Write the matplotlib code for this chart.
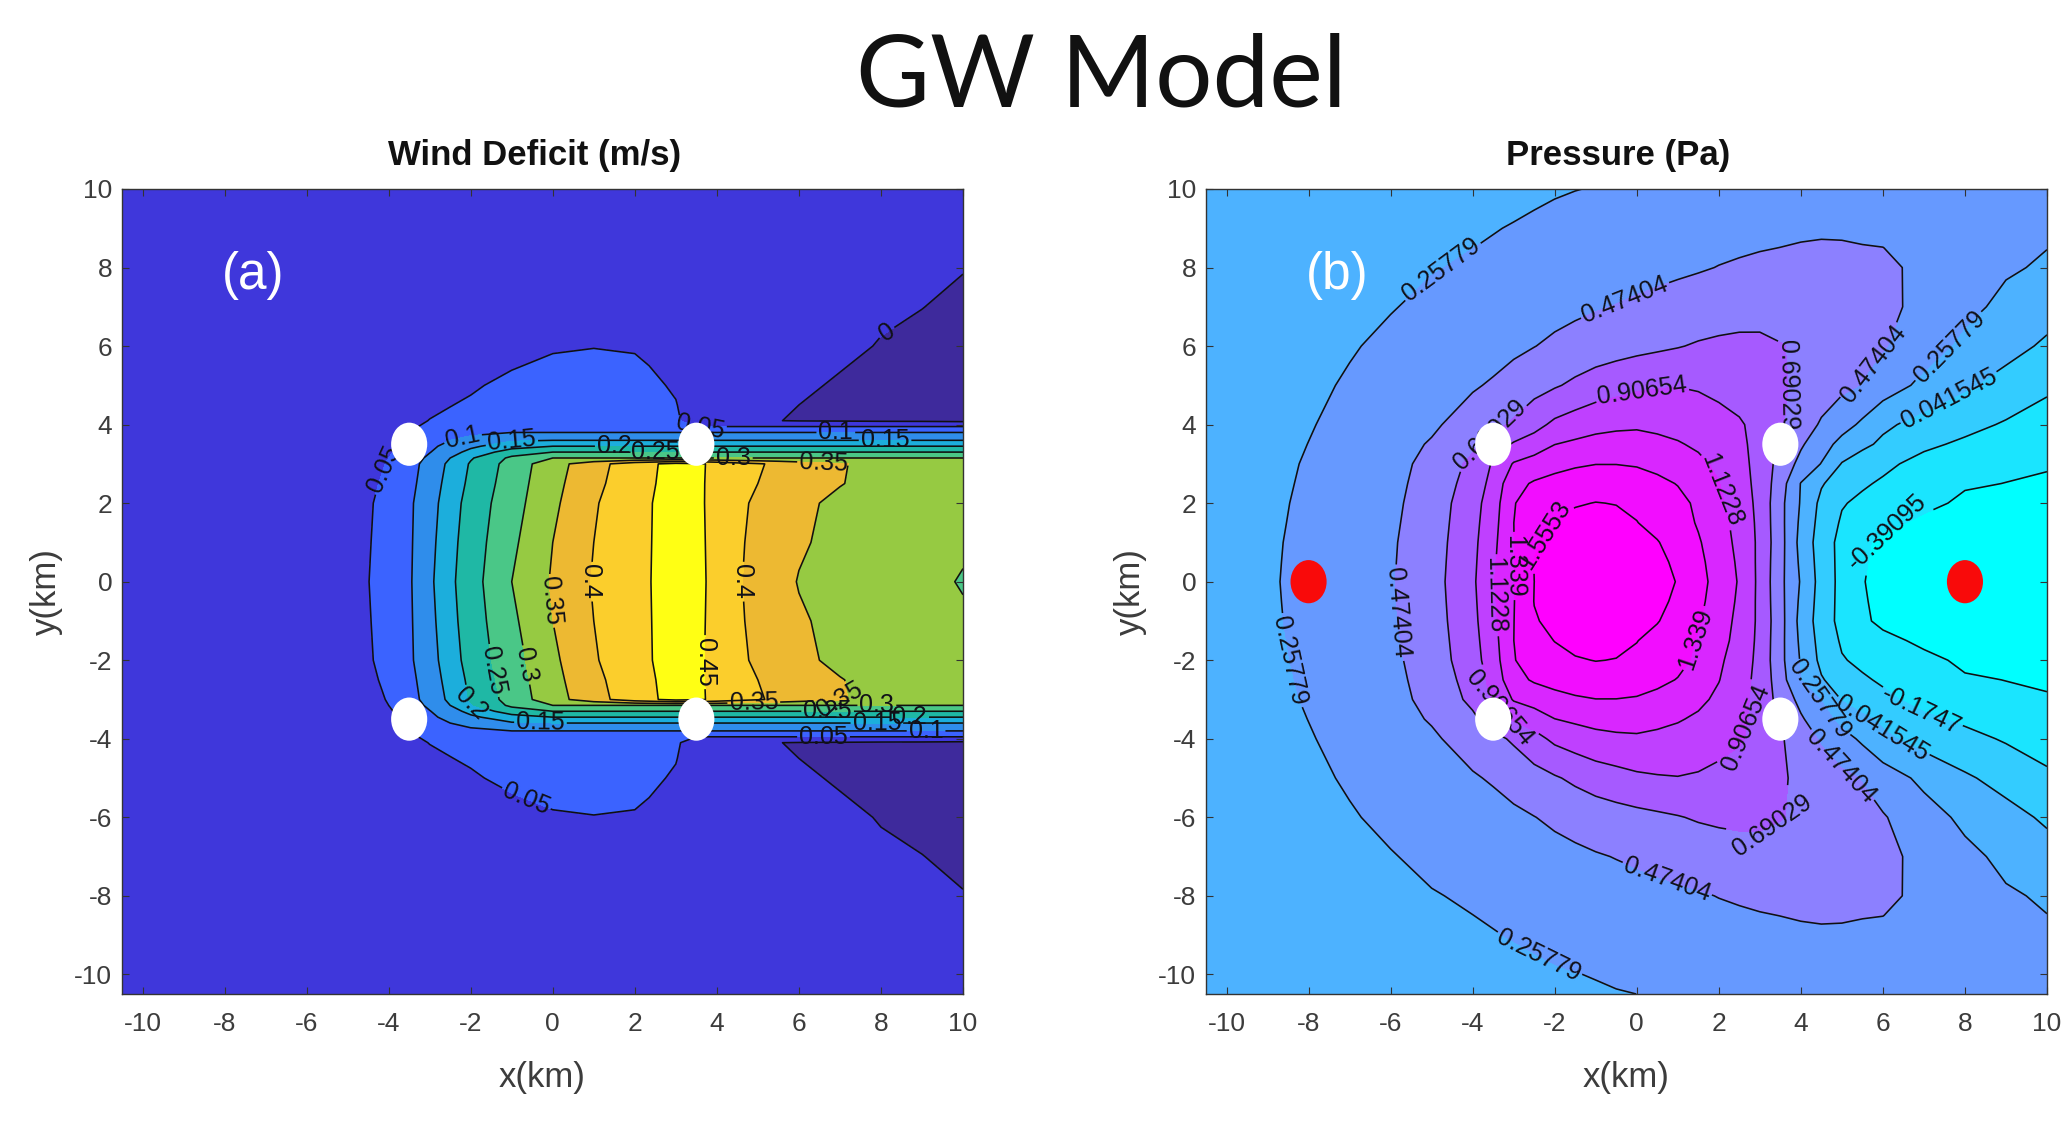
import numpy as np
import matplotlib
matplotlib.use("Agg")
import matplotlib.pyplot as plt
from matplotlib.patches import Ellipse

plt.rcParams['font.family'] = ['Liberation Sans', 'DejaVu Sans']
plt.rcParams['axes.unicode_minus'] = False
plt.rcParams['contour.negative_linestyle'] = 'solid'

# ---------- panel (a): wind deficit, upper half (field is mirrored about y=0) ----------
wind_x = [-10.5,-6,-5,-4.5,-4,-3.5,-3,-2.5,-2,-1,0,1,2,3,3.5,4,5,5.5,6,7,8,9,10]
wind_y = [0,1,2,2.5,3,3.15,3.3,3.45,3.6,3.8,3.95,4.1,4.5,5,5.5,6,7,8,10,10.5]
wind_rows = [
 [.01,.02,.035,.049,.071,.094,.14,.19,.229,.30,.355,.404,.437,.47,.468,.43,.382,.364,.348,.335,.33,.32,.295],
 [.009,.019,.034,.047,.068,.093,.135,.185,.225,.29,.35,.40,.436,.47,.464,.432,.385,.368,.355,.338,.33,.322,.31],
 [.008,.018,.032,.045,.065,.092,.13,.177,.22,.28,.34,.395,.435,.47,.46,.435,.39,.373,.36,.34,.33,.325,.32],
 [.006,.014,.028,.042,.058,.086,.125,.168,.212,.275,.335,.387,.432,.467,.459,.437,.40,.382,.368,.352,.335,.323,.318],
 [.005,.01,.025,.04,.052,.08,.12,.16,.205,.27,.33,.38,.43,.465,.458,.44,.405,.39,.375,.355,.33,.32,.315],
 [.004,.01,.023,.037,.05,.075,.11,.15,.195,.26,.30,.30,.30,.30,.30,.30,.30,.30,.30,.30,.30,.30,.30],
 [.003,.008,.02,.032,.045,.068,.098,.13,.165,.225,.25,.25,.25,.25,.25,.25,.25,.25,.25,.25,.25,.25,.25],
 [.003,.008,.018,.03,.042,.062,.09,.115,.14,.18,.20,.20,.20,.20,.20,.20,.20,.20,.20,.20,.20,.20,.20],
 [.002,.007,.016,.028,.04,.056,.08,.10,.115,.145,.15,.15,.15,.15,.15,.15,.15,.15,.15,.15,.15,.15,.15],
 [.002,.006,.014,.025,.036,.048,.065,.075,.09,.10,.10,.10,.10,.10,.10,.10,.10,.10,.10,.10,.10,.10,.10],
 [.002,.006,.013,.023,.034,.046,.055,.06,.065,.07,.07,.07,.07,.06,.05,.05,.05,.05,.05,.05,.05,.05,.05],
 [.002,.005,.012,.021,.03,.04,.051,.057,.062,.068,.07,.07,.07,.056,.03,.015,.008,.0005,-.002,-.0037,-.006,-.007,-.01],
 [.002,.005,.011,.018,.025,.032,.042,.049,.055,.065,.07,.07,.07,.052,.025,.015,.005,.002,0,-.0025,-.005,-.0074,-.0099],
 [.002,.004,.01,.015,.02,.025,.034,.04,.045,.06,.065,.07,.065,.045,.03,.012,.005,.003,.0015,-.001,-.0035,-.006,-.0084],
 [.001,.004,.009,.013,.017,.021,.028,.032,.036,.047,.058,.065,.058,.035,.02,.01,.005,.004,.003,.0005,-.002,-.0045,-.007],
 [.001,.003,.008,.011,.014,.018,.023,.027,.03,.035,.045,.048,.045,.03,.018,.01,.006,.005,.004,.002,-.0005,-.003,-.0055],
 [.001,.003,.006,.008,.01,.012,.015,.017,.019,.022,.025,.026,.025,.02,.015,.01,.007,.006,.005,.003,.0015,.0002,-.0025],
 [.001,.002,.004,.005,.006,.008,.009,.01,.011,.012,.013,.013,.013,.012,.01,.008,.006,.005,.005,.004,.003,.002,.0005],
 [.001,.001,.002,.002,.003,.003,.004,.004,.005,.005,.005,.005,.005,.005,.005,.004,.004,.004,.003,.003,.003,.003,.002],
 [.001,.001,.002,.002,.003,.003,.004,.004,.005,.005,.005,.005,.005,.005,.005,.004,.004,.004,.003,.003,.003,.003,.002],
]
wind_levels = [0,.05,.1,.15,.2,.25,.3,.35,.4,.45]
wind_colors = ['#3E2A9C','#3F37DB','#3B63FF','#2F8DEB','#1CAEDC','#1FB8A5','#4AC787','#96CA42',
               '#EDB932','#FBCE2C','#FFFF14']
wind_labels = {
 0:[(8.17,6.3)],
 .05:[(-4.2,2.9),(3.6,3.95),(-.6,-5.4),(6.6,-3.95)],
 .1:[(-2.2,3.7),(6.9,3.8),(9.1,-3.8)],
 .15:[(-1,3.6),(8.1,3.6),(-.3,-3.6),(7.9,-3.6)],
 .2:[(1.5,3.45),(-1.9,-3),(8.7,-3.45)],
 .25:[(2.5,3.3),(-1.6,-2.3),(6.7,-3.3)],
 .3:[(4.4,3.15),(-.8,-2.15),(7.9,-3.15)],
 .35:[(6.6,3.0),(-.15,-.5),(4.9,-3.05),(7.0,-3.05)],
 .4:[(.85,0),(4.4,0)],
 .45:[(3.6,-2.05)],
}

# ---------- panel (b): pressure, upper half (field is mirrored about y=0) ----------
pres_x = [-10.5,-9,-8,-7,-6,-5,-4,-3.5,-3,-2.5,-2,-1.5,-1,-.5,0,.5,1,1.5,2,2.5,3,3.5,4,4.5,5,5.5,6,7,8,9,10]
pres_y = [0,.5,1,1.5,2,2.5,3,3.5,4,5,6,7,8,8.5,9,10,10.5]
pres_rows = [
 [.17,.235,.31,.383,.457,.603,.87,1.11,1.33,1.555,1.64,1.71,1.75,1.74,1.70,1.63,1.545,1.41,1.26,1.105,.855,.53,.24,-.04,-.24,-.38,-.46,-.53,-.56,-.54,-.50],
 [.168,.233,.306,.379,.454,.597,.86,1.09,1.33,1.56,1.63,1.70,1.73,1.72,1.67,1.60,1.52,1.39,1.24,1.09,.855,.54,.215,-.05,-.24,-.37,-.445,-.515,-.54,-.52,-.485],
 [.165,.23,.303,.375,.45,.59,.85,1.07,1.335,1.54,1.60,1.65,1.68,1.67,1.62,1.565,1.48,1.36,1.22,1.07,.86,.55,.19,-.06,-.24,-.36,-.43,-.50,-.52,-.5,-.47],
 [.158,.225,.296,.367,.44,.58,.835,1.045,1.338,1.48,1.56,1.61,1.62,1.60,1.56,1.50,1.43,1.32,1.2,1.05,.855,.54,.215,-.035,-.2,-.29,-.345,-.425,-.47,-.465,-.445],
 [.15,.22,.29,.36,.43,.57,.82,1.02,1.33,1.42,1.49,1.54,1.56,1.55,1.52,1.47,1.40,1.30,1.16,1.02,.85,.535,.24,-.01,-.16,-.215,-.26,-.35,-.42,-.43,-.42],
 [.14,.21,.283,.353,.42,.55,.78,.975,1.28,1.36,1.41,1.45,1.47,1.46,1.44,1.39,1.33,1.24,1.13,.99,.845,.57,.25,.06,-.06,-.15,-.2,-.295,-.375,-.393,-.40],
 [.13,.2,.275,.345,.41,.53,.74,.93,1.14,1.22,1.27,1.31,1.335,1.335,1.32,1.28,1.24,1.17,1.08,.97,.84,.61,.415,.25,.03,-.07,-.13,-.24,-.31,-.36,-.385],
 [.12,.19,.26,.33,.4,.49,.65,.79,.93,1.0,1.12,1.16,1.19,1.2,1.2,1.17,1.14,1.09,1.03,.95,.84,.66,.50,.35,.19,.09,0,-.135,-.21,-.275,-.33],
 [.11,.18,.245,.315,.385,.445,.56,.635,.72,.84,.95,1.01,1.06,1.085,1.095,1.08,1.05,1.02,.98,.93,.84,.715,.58,.45,.34,.22,.085,-.04,-.115,-.195,-.27],
 [.09,.16,.225,.275,.33,.39,.455,.495,.55,.61,.67,.73,.79,.83,.87,.89,.9,.885,.85,.81,.76,.715,.65,.58,.52,.465,.37,.205,.07,-.03,-.135],
 [.085,.14,.2,.245,.29,.335,.375,.40,.435,.47,.51,.545,.575,.605,.63,.655,.68,.71,.73,.745,.74,.70,.66,.62,.58,.53,.49,.35,.21,.11,.01],
 [.075,.12,.175,.215,.25,.29,.325,.345,.365,.39,.41,.435,.46,.48,.5,.52,.54,.56,.58,.59,.6,.6,.59,.57,.55,.53,.515,.43,.31,.21,.12],
 [.065,.10,.15,.185,.215,.25,.275,.29,.305,.325,.345,.365,.385,.40,.415,.43,.445,.46,.478,.49,.50,.505,.51,.51,.505,.5,.50,.445,.34,.28,.235],
 [.06,.09,.14,.17,.2,.23,.257,.27,.285,.302,.32,.337,.355,.37,.385,.4,.415,.43,.445,.458,.468,.475,.482,.485,.483,.478,.475,.44,.36,.305,.26],
 [.055,.085,.13,.16,.185,.21,.24,.252,.265,.28,.295,.31,.325,.34,.355,.37,.385,.40,.41,.425,.435,.445,.455,.46,.46,.455,.45,.42,.38,.33,.28],
 [.05,.07,.11,.14,.16,.18,.2,.21,.22,.232,.245,.255,.263,.28,.30,.315,.33,.345,.355,.37,.38,.39,.395,.40,.40,.40,.40,.385,.36,.325,.29],
 [.05,.065,.10,.125,.145,.165,.185,.195,.205,.215,.23,.238,.245,.25,.258,.28,.30,.315,.33,.345,.36,.37,.38,.385,.385,.385,.385,.37,.345,.315,.28],
]
pres_levels = [-.39095,-.1747,.041545,.25779,.47404,.69029,.90654,1.1228,1.339,1.5553]
pres_names = {-.39095:'-0.39095',-.1747:'-0.1747',.041545:'0.041545',.25779:'0.25779',.47404:'0.47404',
              .69029:'0.69029',.90654:'0.90654',1.1228:'1.1228',1.339:'1.339',1.5553:'1.5553'}
pres_colors = ['#00FFFF','#1AE5FF','#33CCFF','#4DB2FF','#6699FF','#8C80FF','#A65AFF','#BF40FF','#D926FF','#F20DFF','#FF00FF']
pres_labels = {
 .25779:[(-4.74,7.9),(-8.6,-2.05),(-2.35,-9.45),(7.6,6.0),(4.35,-3.1)],
 .47404:[(-.3,7.2),(-5.9,-.8),(.7,-7.7),(5.7,5.6),(4.8,-4.9)],
 .69029:[(-3.4,3.5),(3.75,5.0),(3.2,-6.0)],
 .90654:[(.15,4.75),(-3.2,-3.05),(2.6,-3.7)],
 1.1228:[(1.95,2.3),(-3.5,-.35)],
 1.339:[(-3.05,.4),(1.3,-1.4)],
 1.5553:[(-2.4,1.3)],
 .041545:[(7.6,4.7),(6.1,-3.6)],
 -.39095:[(6.0,1.5)],
 -.1747:[(7.1,-2.9)],
}

turbine_x = [-3.5,-3.5,3.5,3.5]
turbine_y = [3.5,-3.5,3.5,-3.5]
probe_x = [-8,8]
probe_y = [0,0]
ticks = [-10,-8,-6,-4,-2,0,2,4,6,8,10]

def mirror(ys, rows):
    a = np.array(rows, float)
    y = np.array(ys, float)
    return np.r_[-y[:0:-1], y], np.vstack([a[:0:-1], a])

def panel(rect, xs, ys, rows, levels, colors, labels, names, title, letter, title_x):
    ax = fig.add_axes(rect)
    Y, Z = mirror(ys, rows)
    X = np.array(xs, float)
    ax.contourf(X, Y, Z, levels=levels, colors=colors, extend='both')
    for lev in levels:
        cs = ax.contour(X, Y, Z, levels=[lev], colors='#101010', linewidths=1.15)
        pos = labels.get(lev)
        if pos:
            ax.clabel(cs, manual=pos, inline=True, inline_spacing=2,
                      fontsize=18, colors='#101018', fmt={lev: names(lev)})
    ax.set_xlim(-10.5, 10); ax.set_ylim(-10.5, 10)
    ax.set_xticks(ticks); ax.set_yticks(ticks)
    ax.tick_params(direction='in', length=5, width=.8, top=True, right=True, color='#333333',
                   labelsize=19, labelcolor='#3c3c3c')
    ax.tick_params(axis='x', pad=13)
    ax.tick_params(axis='y', pad=7)
    for s in ax.spines.values():
        s.set_color('#333333'); s.set_linewidth(1.0)
    ax.set_xlabel('x(km)', fontsize=25, color='#3c3c3c', labelpad=18)
    ax.set_ylabel('y(km)', fontsize=25, color='#3c3c3c', labelpad=8)
    ax.set_title(title, fontsize=25, fontweight='bold', color='#111111', x=title_x, pad=17)
    ax.text(-7.3, 7.8, letter, color='white', fontsize=37, ha='center', va='center')
    for tx, ty in zip(turbine_x, turbine_y):
        ax.add_patch(Ellipse((tx, ty), .88, 1.1, fc='white', ec='none', zorder=5))
    return ax

fig = plt.figure(figsize=(20.67, 11.30), dpi=100, facecolor='white')
W, H = 2067, 1130
axa = panel([122/W, 1-994/H, 841/W, 805/H], wind_x, wind_y, wind_rows, wind_levels, wind_colors,
            wind_labels, lambda v: ('%g' % v), 'Wind Deficit (m/s)', '(a)', .49)
axb = panel([1206/W, 1-994/H, 841/W, 805/H], pres_x, pres_y, pres_rows, pres_levels, pres_colors,
            pres_labels, lambda v: pres_names[v], 'Pressure (Pa)', '(b)', .49)
for px, py in zip(probe_x, probe_y):
    axb.add_patch(Ellipse((px, py), .88, 1.1, fc='#F90A0A', ec='none', zorder=5))
fig.text(1101/W, 1-78/H, 'GW Model', fontsize=73, family='Lato', color='#111111', ha='center', va='center')
fig.savefig('out.png', dpi=100, facecolor='white')
